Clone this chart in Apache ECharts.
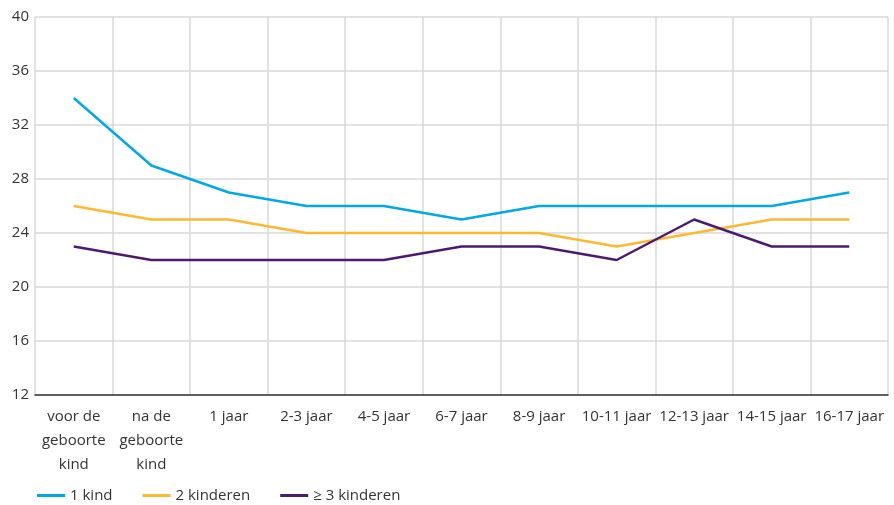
<!DOCTYPE html>
<html lang="nl">
<head>
    <meta charset="utf-8">
    <title>Lijngrafiek</title>
    <style>body{margin:0;background:#fff;}</style>
</head>
<body>
    <div id="main" style="width:894px;height:505px;"></div>
    <script src="https://cdn.jsdelivr.net/npm/echarts@6/dist/echarts.min.js"></script>
    <script type="text/javascript">
    var categories = ['voor de\ngeboorte\nkind', 'na de\ngeboorte\nkind', '1 jaar', '2-3 jaar', '4-5 jaar',
        '6-7 jaar', '8-9 jaar', '10-11 jaar', '12-13 jaar', '14-15 jaar', '16-17 jaar'];
    var een = [34, 29, 27, 26, 26, 25, 26, 26, 26, 26, 27];
    var twee = [26, 25, 25, 24, 24, 24, 24, 23, 24, 25, 25];
    var drie = [23, 22, 22, 22, 22, 23, 23, 22, 25, 23, 23];
    var seriesNames = ['1 kind', '2 kinderen', '≥ 3 kinderen'];

    var myChart = echarts.init(document.getElementById('main'));
    var font = 'Open Sans';
    function line(name, data, color) {
        return {
            name: name,
            type: 'line',
            data: data,
            showSymbol: false,
            symbol: 'none',
            lineStyle: { color: color, width: 2.5 },
            itemStyle: { color: color }
        };
    }
    var option = {
        animation: false,
        grid: { left: 35, right: 6, top: 17, bottom: 110 },
        legend: {
            left: 32, bottom: -3,
            icon: 'rect', itemWidth: 28, itemHeight: 3, itemGap: 30,
            textStyle: { fontFamily: font, fontSize: 15, color: '#333' },
            data: seriesNames
        },
        xAxis: {
            type: 'category',
            data: categories,
            boundaryGap: true,
            axisLine: { lineStyle: { color: '#333', width: 1.5 } },
            axisTick: { alignWithLabel: true, length: 6, lineStyle: { color: '#333', width: 1.5 } },
            axisLabel: { interval: 0, fontFamily: font, fontSize: 15, color: '#333', lineHeight: 24, margin: 10 },
            splitLine: { show: true, showMinLine: true, showMaxLine: true, lineStyle: { color: '#d9d9d9', width: 1.5 } }
        },
        yAxis: {
            type: 'value',
            min: 12, max: 40, interval: 4,
            axisLine: { show: false },
            axisTick: { show: false },
            axisLabel: { fontFamily: font, fontSize: 15, color: '#333', margin: 6 },
            splitLine: { lineStyle: { color: '#d9d9d9', width: 1.5 } }
        },
        series: [
            line(seriesNames[0], een, '#00A8E6'),
            line(seriesNames[1], twee, '#FBB932'),
            line(seriesNames[2], drie, '#4B1C6E')
        ]
    };
    myChart.setOption(option);
    </script>
</body>
</html>
